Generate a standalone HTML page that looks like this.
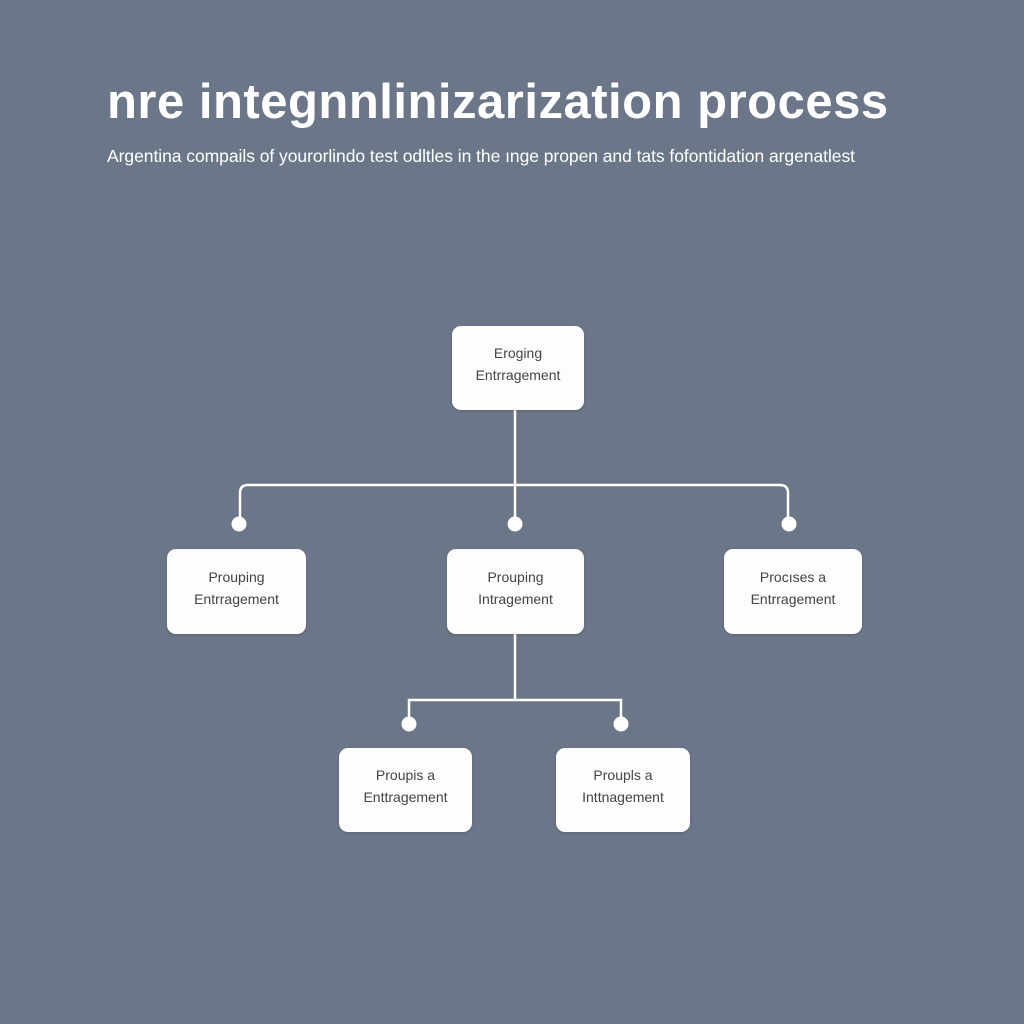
<!DOCTYPE html>
<html><head><meta charset="utf-8"><style>
html,body{margin:0;padding:0;}
body{width:1024px;height:1024px;background:#6b7689;position:relative;overflow:hidden;font-family:"Liberation Sans",sans-serif;}
.t{position:absolute;left:107px;top:74px;color:#fff;font-weight:bold;font-size:49px;white-space:nowrap;letter-spacing:0.5px;}
.s{position:absolute;left:107px;top:146px;color:#fff;font-size:17.5px;white-space:nowrap;letter-spacing:-0.05px;}
.b{position:absolute;background:#fdfdfd;border-radius:9px;display:flex;align-items:center;justify-content:center;text-align:center;color:#444;font-size:14px;line-height:22px;box-shadow:0 1px 3px rgba(0,0,0,.15);padding-bottom:8px;box-sizing:border-box;}
svg{position:absolute;left:0;top:0;}
</style></head><body>
<div class="t">nre integnnlinizarization process</div>
<div class="s">Argentina compails of yourorlindo test odltles in the ıngе propen and tats fofontidation argenatlest</div>
<svg width="1024" height="1024">
<g stroke="#fff" stroke-width="2.5" fill="none">
<path d="M515 410 V485"/>
<path d="M240 523 V493 Q240 485 248 485 H780 Q788 485 788 493 V523"/>
<path d="M515 485 V523"/>
<path d="M515 634 V700"/>
<path d="M409 723 V700 H621 V723"/>
</g>
<g fill="#fff">
<circle cx="239" cy="524" r="7.5"/><circle cx="515" cy="524" r="7.5"/><circle cx="789" cy="524" r="7.5"/>
<circle cx="409" cy="724" r="7.5"/><circle cx="621" cy="724" r="7.5"/>
</g>
</svg>
<div class="b" style="left:452px;top:326px;width:132px;height:84px;">Eroging<br>Entrragement</div>
<div class="b" style="left:167px;top:549px;width:139px;height:85px;">Prouping<br>Entrragement</div>
<div class="b" style="left:447px;top:549px;width:137px;height:85px;">Prouping<br>Intragement</div>
<div class="b" style="left:724px;top:549px;width:138px;height:85px;">Procıses a<br>Entrragement</div>
<div class="b" style="left:339px;top:748px;width:133px;height:84px;">Proupis a<br>Enttragement</div>
<div class="b" style="left:556px;top:748px;width:134px;height:84px;">Proupls a<br>Inttnagement</div>
</body></html>
